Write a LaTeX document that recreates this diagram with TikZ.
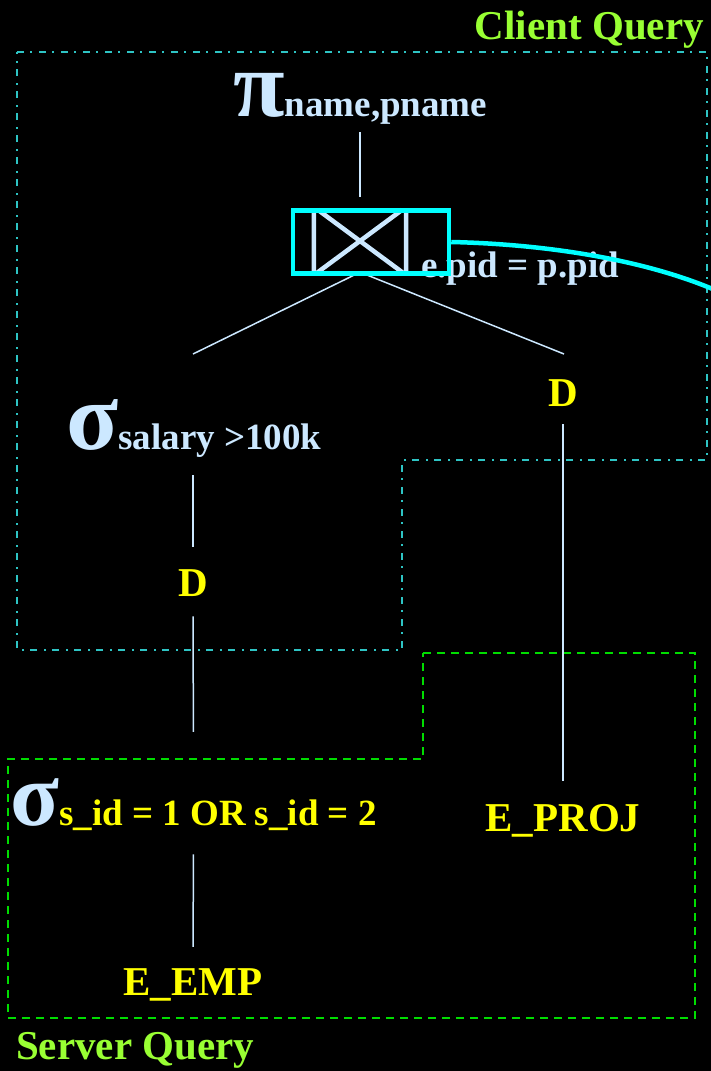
\documentclass[tikz,border=0pt]{standalone}
\usepackage{fontspec}
\setmainfont{Liberation Serif}
\definecolor{lblue}{HTML}{CCE8FF}
\definecolor{yel}{HTML}{FFFF00}
\definecolor{lime}{HTML}{99FF33}
\definecolor{teal}{HTML}{2EC4C4}
\definecolor{grn}{HTML}{00DD00}
\definecolor{cyanc}{HTML}{00FFFF}
\tikzset{
  sub/.style={font=\bfseries\fontsize{37}{40}\selectfont, inner sep=0pt},
  big/.style={font=\bfseries\fontsize{41}{44}\selectfont, inner sep=0pt},
  relname/.style={big, text=yel},
  regionlbl/.style={big, text=lime},
  edge/.style={draw=lblue, line width=1.5pt},
  bow/.style={draw=lblue, line width=4.5pt},
  joinframe/.style={draw=cyanc, line width=4.5pt, inner sep=0pt},
  clientb/.style={draw=teal, line width=2pt, dash pattern=on 7pt off 6pt on 2pt off 7pt},
  serverb/.style={draw=grn, line width=2.2pt, dash pattern=on 8pt off 6pt}
}
\newcommand{\greekbig}[2]{{\fontsize{#1}{#1}\selectfont #2}}
\begin{document}
\begin{tikzpicture}[x=1pt,y=-1pt]
\useasboundingbox (0,0) rectangle (711,1071);
\fill[black] (0,0) rectangle (711,1071);

% regions
\draw[clientb] (17,52) -- (707,52) -- (707,460) -- (402,460) -- (402,650) -- (17,650) -- cycle;
\draw[serverb] (423,653) -- (695,653) -- (695,1018) -- (8,1018) -- (8,759) -- (423,759) -- cycle;
\node[regionlbl, anchor=base east] (clientlbl) at (704,39) {Client Query};
\node[regionlbl, anchor=base west] (serverlbl) at (16,1059) {Server Query};

% operator nodes
\node[sub, text=lblue, anchor=base west] (proj) at (233,116) {\greekbig{94}{π}name,pname};
\node[minimum width=92pt, minimum height=62pt, inner sep=0pt] (join) at (360,241) {};
\node[sub, text=lblue, anchor=base west] (cond) at (421,277) {e.pid = p.pid};
\node[sub, text=lblue, anchor=base west] (sel1) at (66,449) {\greekbig{96}{σ}salary >100k};
\node[relname, anchor=base] (d1) at (193,596) {D};
\node[relname, anchor=base] (d2) at (563,406) {D};
\node[sub, anchor=base west] (sel2) at (10,825) {\textcolor{lblue}{\greekbig{90}{σ}}\textcolor{yel}{s\_id = 1 OR s\_id = 2}};
\node[relname, anchor=base] (eproj) at (563,831) {E\_PROJ};
\node[relname, anchor=base] (eemp) at (193,995) {E\_EMP};
\coordinate (l1) at (193,354);
\coordinate (r1) at (564,354);

% connectors
\draw[edge, shorten <=8pt, shorten >=13pt] (proj.south -| join.north) -- (join.north);
\draw[edge] (join.south) -- (l1);
\draw[edge] (join.south) -- (r1);
\draw[edge, shorten <=18pt, shorten >=23pt] (d2.south) -- (eproj.north);
\draw[edge, shorten <=18pt, shorten >=22pt] (d1.north |- sel1.south) -- (d1.north);
\draw[edge, shorten <=20pt, shorten >=46pt] (d1.south) -- (sel2.north);
\draw[edge, shorten <=24pt, shorten >=21pt] (sel2.south) -- (eemp.north);

% join symbol
\draw[bow] (join.north west) -- (join.south west)
           (join.north east) -- (join.south east)
           ([xshift=4pt]join.north west) -- ([xshift=-4pt]join.south east)
           ([xshift=4pt]join.south west) -- ([xshift=-4pt]join.north east);
\node[joinframe, minimum width=156pt, minimum height=63pt] (joinbox) at (371,242) {};
\coordinate (curveend) at (715,290);
\draw[cyanc, line width=4.5pt] (joinbox.east) .. controls (540,244) and (640,258) .. (curveend);
\end{tikzpicture}
\end{document}
